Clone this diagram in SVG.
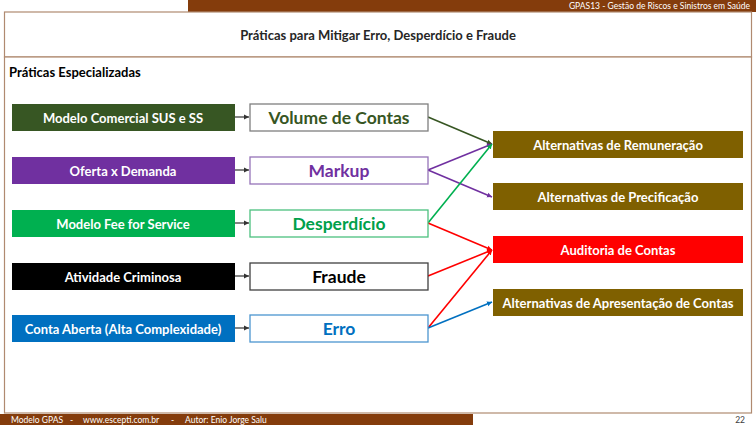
<svg xmlns="http://www.w3.org/2000/svg" width="756" height="425" viewBox="0 0 756 425">
<defs>
<style>
text{font-family:Lato,"Open Sans","Liberation Sans",sans-serif;font-weight:bold;}
.lt{fill:#fff;font-size:13px;text-anchor:middle;dominant-baseline:central;}
.mt{font-size:17.5px;text-anchor:middle;dominant-baseline:central;}
.sm{font-size:8.5px;font-weight:normal;fill:#fff;}
.mb{fill:#fff;stroke-width:1.3;}
.c{fill:none;stroke-width:1.6;}
.ar{stroke:#333;stroke-width:1.2;fill:none;}
</style>
<marker id="ak" markerWidth="6" markerHeight="6" refX="5" refY="3" orient="auto" markerUnits="userSpaceOnUse"><path d="M0,0.5 L5,3 L0,5.5 z" fill="#333"/></marker>
<marker id="adg" markerWidth="6" markerHeight="6" refX="5" refY="3" orient="auto" markerUnits="userSpaceOnUse"><path d="M0,0.5 L5,3 L0,5.5 z" fill="#375623"/></marker>
<marker id="ap" markerWidth="6" markerHeight="6" refX="5" refY="3" orient="auto" markerUnits="userSpaceOnUse"><path d="M0,0.5 L5,3 L0,5.5 z" fill="#7030A0"/></marker>
<marker id="ag" markerWidth="6" markerHeight="6" refX="5" refY="3" orient="auto" markerUnits="userSpaceOnUse"><path d="M0,0.5 L5,3 L0,5.5 z" fill="#00B050"/></marker>
<marker id="ar" markerWidth="6" markerHeight="6" refX="5" refY="3" orient="auto" markerUnits="userSpaceOnUse"><path d="M0,0.5 L5,3 L0,5.5 z" fill="#FF0000"/></marker>
<marker id="ab" markerWidth="6" markerHeight="6" refX="5" refY="3" orient="auto" markerUnits="userSpaceOnUse"><path d="M0,0.5 L5,3 L0,5.5 z" fill="#0070C0"/></marker>
</defs>
<rect width="756" height="425" fill="#fff"/>
<g id="header">
<rect x="188" y="0" width="568" height="12" fill="#843C0C"/>
<text class="sm" x="750" y="9" text-anchor="end">GPAS13 - Gestão de Riscos  e Sinistros em Saúde</text>
<rect x="4.5" y="12" width="747" height="45" fill="#fff" stroke="#B08A70" stroke-width="1.2"/>
<text x="378" y="35" font-size="13" fill="#262626" text-anchor="middle" dominant-baseline="central">Práticas para Mitigar Erro, Desperdício e Fraude</text>
<rect x="4.5" y="57" width="747" height="356" fill="#fff" stroke="#B08A70" stroke-width="1.2"/>
<text x="9" y="72" font-size="13" fill="#000" dominant-baseline="central">Práticas Especializadas</text>
</g>
<g id="footer">
<rect x="0" y="414" width="473" height="11" fill="#843C0C"/>
<text class="sm" x="11" y="422.5">Modelo GPAS</text>
<text class="sm" x="70" y="422.5">-</text>
<text class="sm" x="83" y="422.5">www.escepti.com.br</text>
<text class="sm" x="171" y="422.5">-</text>
<text class="sm" x="185" y="422.5">Autor: Enio Jorge Salu</text>
<text class="sm" x="745" y="422.5" text-anchor="end" style="fill:#404040">22</text>
</g>
<g id="connectors">
<line class="ar" x1="235" y1="117" x2="249" y2="117" marker-end="url(#ak)"/>
<line class="ar" x1="235" y1="170" x2="249" y2="170" marker-end="url(#ak)"/>
<line class="ar" x1="235" y1="223" x2="249" y2="223" marker-end="url(#ak)"/>
<line class="ar" x1="235" y1="276" x2="249" y2="276" marker-end="url(#ak)"/>
<line class="ar" x1="235" y1="328" x2="249" y2="328" marker-end="url(#ak)"/>
<line class="c" stroke="#375623" x1="428" y1="117" x2="492" y2="144" marker-end="url(#adg)"/>
<line class="c" stroke="#7030A0" x1="428" y1="170" x2="492" y2="144" marker-end="url(#ap)"/>
<line class="c" stroke="#7030A0" x1="428" y1="170" x2="492" y2="197" marker-end="url(#ap)"/>
<line class="c" stroke="#00B050" x1="428" y1="223" x2="492" y2="144" marker-end="url(#ag)"/>
<line class="c" stroke="#FF0000" x1="428" y1="223" x2="492" y2="250" marker-end="url(#ar)"/>
<line class="c" stroke="#FF0000" x1="428" y1="276" x2="492" y2="250" marker-end="url(#ar)"/>
<line class="c" stroke="#FF0000" x1="428" y1="328" x2="492" y2="250" marker-end="url(#ar)"/>
<line class="c" stroke="#0070C0" x1="428" y1="328" x2="492" y2="302" marker-end="url(#ab)"/>
</g>
<g id="n-modelo-comercial"><rect x="12" y="104" width="223" height="27" fill="#375623"/><text class="lt" x="123" y="117.5">Modelo Comercial SUS e SS</text></g>
<g id="n-oferta"><rect x="12" y="157" width="223" height="27" fill="#7030A0"/><text class="lt" x="123" y="170.5">Oferta x Demanda</text></g>
<g id="n-fee"><rect x="12" y="210" width="223" height="27" fill="#00B050"/><text class="lt" x="123" y="223.5">Modelo Fee for Service</text></g>
<g id="n-atividade"><rect x="12" y="263" width="223" height="27" fill="#000"/><text class="lt" x="123" y="276.5">Atividade Criminosa</text></g>
<g id="n-conta"><rect x="12" y="315" width="223" height="27" fill="#0070C0"/><text class="lt" x="123" y="328.5">Conta Aberta (Alta Complexidade)</text></g>
<g id="n-volume"><rect class="mb" x="250" y="104" width="178" height="27" stroke="#7F7F7F"/><text class="mt" x="339" y="117.5" fill="#375623">Volume de Contas</text></g>
<g id="n-markup"><rect class="mb" x="250" y="157" width="178" height="27" stroke="#9673B8"/><text class="mt" x="339" y="170.5" fill="#7030A0">Markup</text></g>
<g id="n-desperdicio"><rect class="mb" x="250" y="210" width="178" height="27" stroke="#4CC07F"/><text class="mt" x="339" y="223.5" fill="#00A04A">Desperdício</text></g>
<g id="n-fraude"><rect class="mb" x="250" y="263" width="178" height="27" stroke="#404040"/><text class="mt" x="339" y="276.5" fill="#000">Fraude</text></g>
<g id="n-erro"><rect class="mb" x="250" y="315" width="178" height="27" stroke="#4C96D0"/><text class="mt" x="339" y="328.5" fill="#0070C0">Erro</text></g>
<g id="n-remuneracao"><rect x="493" y="131" width="250" height="27" fill="#7F6000"/><text class="lt" x="618" y="144.5">Alternativas de Remuneração</text></g>
<g id="n-precificacao"><rect x="493" y="183" width="250" height="27" fill="#7F6000"/><text class="lt" x="618" y="196.5">Alternativas de Precificação</text></g>
<g id="n-auditoria"><rect x="493" y="236" width="250" height="27" fill="#FF0000"/><text class="lt" x="618" y="249.5">Auditoria de Contas</text></g>
<g id="n-apresentacao"><rect x="493" y="289" width="250" height="27" fill="#7F6000"/><text class="lt" x="618" y="302.5">Alternativas de Apresentação de Contas</text></g>
</svg>
